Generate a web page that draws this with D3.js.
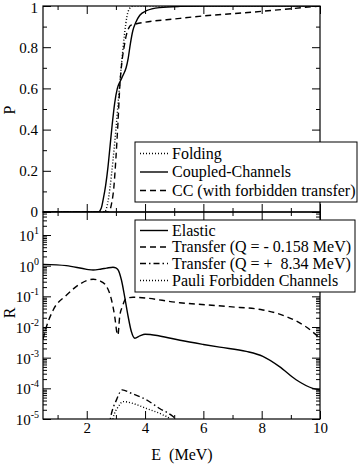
<!DOCTYPE html>
<html>
<head>
<meta charset="utf-8">
<script src="https://cdn.jsdelivr.net/npm/d3@7"></script>
<style>
  body { margin: 0; background: #fff; }
  svg { display: block; font-family: "Liberation Serif", "Times New Roman", Times, serif; }
  svg text { font-family: "Liberation Serif", "Times New Roman", Times, serif !important; fill: #000; }
</style>
</head>
<body>
<svg width="360" height="464"></svg>
<script>
// ---- data ----
// upper panel: P vs E (MeV)
const folding = [[0.5,0],[2.6,0],[2.7,0.03],[2.8,0.12],[2.9,0.25],[3.0,0.4],[3.1,0.57],[3.2,0.73],[3.3,0.87],[3.38,0.95],[3.47,0.988],[3.6,1.0],[10,1.0]];
const coupled = [[0.5,0],[2.39,0],[2.5,0.02],[2.56,0.058],[2.65,0.13],[2.73,0.22],[2.8,0.32],[2.87,0.42],[2.96,0.53],[3.05,0.6],[3.15,0.635],[3.25,0.665],[3.35,0.7],[3.42,0.745],[3.5,0.82],[3.58,0.88],[3.68,0.92],[3.82,0.955],[4.05,0.977],[4.5,0.992],[5.2,0.998],[6,1.0],[10,1.0]];
const ccForbidden = [[0.5,0],[2.75,0],[2.85,0.04],[2.93,0.12],[3.0,0.26],[3.07,0.43],[3.13,0.6],[3.2,0.72],[3.28,0.8],[3.36,0.86],[3.45,0.895],[3.52,0.907],[5.2,0.94],[8,0.974],[10,1.0]];

// lower panel: R vs E (MeV), log scale
const elastic = [[0.5,1.1],[1.3,1.0],[2.0,0.76],[2.22,0.72],[2.5,0.78],[2.68,0.83],[2.9,0.89],[3.0,0.84],[3.08,0.72],[3.19,0.34],[3.3,0.098],[3.42,0.022],[3.53,0.0071],[3.65,0.0043],[3.82,0.0051],[4.0,0.0058],[4.5,0.0051],[5.2,0.0037],[6.0,0.0027],[6.56,0.0022],[7.47,0.0016],[8.04,0.0011],[8.61,5.1e-4],[9.18,1.9e-4],[9.75,1.0e-4],[10,8.9e-5]];
const transferLow = [[0.5,0.004],[0.6,0.009],[0.85,0.036],[1.31,0.11],[1.76,0.25],[2.22,0.36],[2.45,0.32],[2.68,0.21],[2.85,0.076],[2.96,0.022],[3.04,0.0063],[3.07,0.0055],[3.13,0.022],[3.22,0.046],[3.36,0.087],[3.59,0.093],[5.19,0.062],[6.9,0.046],[8.04,0.036],[8.84,0.022],[9.53,0.010],[10,0.0043]];
const transferHigh = [[2.76,5e-6],[2.81,1e-5],[3.02,4.2e-5],[3.22,8.9e-5],[3.48,7.2e-5],[4.05,4.2e-5],[4.5,2.2e-5],[4.96,1.2e-5],[5.05,1e-5],[5.1,8e-6]];
const pauli = [[2.85,5e-6],[2.9,1e-5],[3.08,2.5e-5],[3.25,3.7e-5],[3.59,3.2e-5],[4.05,2.2e-5],[4.62,1.35e-5],[4.85,1e-5],[4.9,8e-6]];

const xMajor = [2, 4, 6, 8, 10];
const xMinor = [1, 3, 5, 7, 9];
const pMajor = [0, 0.2, 0.4, 0.6, 0.8, 1];
const pMinor = [0.1, 0.3, 0.5, 0.7, 0.9];
const rExponents = [-5, -4, -3, -2, -1, 0, 1];

const topLegend = ["Folding", "Coupled-Channels", "CC (with forbidden transfer)"];
const botLegend = ["Elastic", "Transfer (Q = - 0.158 MeV)", "Transfer (Q = +  8.34 MeV)", "Pauli Forbidden Channels"];

// ---- layout ----
const left = 43, right = 320;
const topY0 = 6, midY = 212, botY1 = 419;
const serif = '"Liberation Serif", "Times New Roman", Times, serif';

const svg = d3.select("svg");
const x = d3.scaleLinear().domain([0.5, 10]).range([left, right]);
const yP = d3.scaleLinear().domain([0, 1]).range([midY, topY0]);
const yR = d3.scaleLog().domain([1e-5, Math.pow(10, 1.75)]).range([botY1, midY]);

const rMinor = [];
rExponents.forEach(e => { for (let k = 2; k <= 9; k++) { const v = k * Math.pow(10, e); if (v < yR.domain()[1]) rMinor.push(v); } });

const dash = { solid: null, dashed: "6,4", dotted: "1,2", dashdot: "6,3,1.5,3" };

// clip paths
const defs = svg.append("defs");
defs.append("clipPath").attr("id", "clipTop").append("rect")
  .attr("x", left).attr("y", topY0).attr("width", right - left).attr("height", midY - topY0);
defs.append("clipPath").attr("id", "clipBot").append("rect")
  .attr("x", left).attr("y", midY).attr("width", right - left).attr("height", botY1 - midY);

function ticks(axis, tx, ty, size) {
  const g = svg.append("g").attr("transform", `translate(${tx},${ty})`)
    .call(axis.tickSize(size).tickFormat(""));
  g.select(".domain").remove();
  g.selectAll("line").attr("stroke", "#000");
}

// top panel ticks (inward)
ticks(d3.axisTop(x).tickValues(xMajor), 0, midY, 8);
ticks(d3.axisTop(x).tickValues(xMinor), 0, midY, 4);
ticks(d3.axisBottom(x).tickValues(xMajor), 0, topY0, 8);
ticks(d3.axisBottom(x).tickValues(xMinor), 0, topY0, 4);
ticks(d3.axisRight(yP).tickValues(pMajor), left, 0, 8);
ticks(d3.axisRight(yP).tickValues(pMinor), left, 0, 4);
ticks(d3.axisLeft(yP).tickValues(pMajor), right, 0, 8);
ticks(d3.axisLeft(yP).tickValues(pMinor), right, 0, 4);

// bottom panel ticks (inward)
ticks(d3.axisBottom(x).tickValues(xMajor), 0, midY, 8);
ticks(d3.axisBottom(x).tickValues(xMinor), 0, midY, 4);
ticks(d3.axisTop(x).tickValues(xMajor), 0, botY1, 8);
ticks(d3.axisTop(x).tickValues(xMinor), 0, botY1, 4);
const rMajor = rExponents.map(e => Math.pow(10, e));
ticks(d3.axisRight(yR).tickValues(rMajor), left, 0, 8);
ticks(d3.axisRight(yR).tickValues(rMinor), left, 0, 4);
ticks(d3.axisLeft(yR).tickValues(rMajor), right, 0, 8);
ticks(d3.axisLeft(yR).tickValues(rMinor), right, 0, 4);

// labels
const pLab = svg.append("g").attr("transform", `translate(${left},0)`)
  .call(d3.axisLeft(yP).tickValues(pMajor).tickSize(0).tickPadding(5).tickFormat(d3.format("~g")));
pLab.select(".domain").remove();
pLab.attr("font-family", serif).attr("font-size", 15);
pLab.selectAll("text").filter(d => d === 1).attr("dy", "0.45em");

const xLab = svg.append("g").attr("transform", `translate(0,${botY1})`)
  .call(d3.axisBottom(x).tickValues(xMajor).tickSize(0).tickPadding(3));
xLab.select(".domain").remove();
xLab.attr("font-family", serif).attr("font-size", 15);

const rLab = svg.append("g").attr("font-family", serif);
rExponents.forEach(e => {
  const t = rLab.append("text")
    .attr("x", left - 4).attr("y", yR(Math.pow(10, e)) + 6)
    .attr("text-anchor", "end").attr("font-size", 15);
  t.append("tspan").text("10");
  t.append("tspan").attr("dy", -7).attr("font-size", 10).text(String(e));
});

svg.append("text").attr("transform", `translate(15,110) rotate(-90)`)
  .attr("text-anchor", "middle").attr("font-size", 16).text("P");
svg.append("text").attr("transform", `translate(15,313) rotate(-90)`)
  .attr("text-anchor", "middle").attr("font-size", 16).text("R");
svg.append("text").attr("x", 182).attr("y", 460).attr("text-anchor", "middle")
  .attr("font-size", 16).style("white-space", "pre").text("E  (MeV)");

// curves
const lineTop = d3.line().x(d => x(d[0])).y(d => yP(d[1])).curve(d3.curveMonotoneX);
const lineBot = d3.line().x(d => x(d[0])).y(d => yR(d[1])).curve(d3.curveMonotoneX);

const gTop = svg.append("g").attr("clip-path", "url(#clipTop)");
[[folding, dash.dotted], [coupled, dash.solid], [ccForbidden, dash.dashed]].forEach(([d, da]) => {
  gTop.append("path").datum(d).attr("d", lineTop)
    .attr("fill", "none").attr("stroke", "#000").attr("stroke-width", 1.4)
    .attr("stroke-dasharray", da);
});

const gBot = svg.append("g").attr("clip-path", "url(#clipBot)");
[[elastic, dash.solid], [transferLow, dash.dashed], [transferHigh, dash.dashdot], [pauli, dash.dotted]].forEach(([d, da]) => {
  gBot.append("path").datum(d).attr("d", lineBot)
    .attr("fill", "none").attr("stroke", "#000").attr("stroke-width", 1.4)
    .attr("stroke-dasharray", da);
});

// frames
svg.append("rect").attr("x", left).attr("y", topY0).attr("width", right - left).attr("height", midY - topY0)
  .attr("fill", "none").attr("stroke", "#000").attr("stroke-width", 1.2);
svg.append("rect").attr("x", left).attr("y", midY).attr("width", right - left).attr("height", botY1 - midY)
  .attr("fill", "none").attr("stroke", "#000").attr("stroke-width", 1.2);

// legends
function legend(items, styles, box, rows) {
  svg.append("rect").attr("x", box[0]).attr("y", box[1]).attr("width", box[2] - box[0]).attr("height", box[3] - box[1])
    .attr("fill", "#fff").attr("stroke", "#000").attr("stroke-width", 1);
  items.forEach((label, i) => {
    svg.append("line").attr("x1", 140).attr("x2", 168).attr("y1", rows[i]).attr("y2", rows[i])
      .attr("stroke", "#000").attr("stroke-width", 1.4).attr("stroke-dasharray", styles[i]);
    svg.append("text").attr("x", 172).attr("y", rows[i] + 5).attr("font-size", 16)
      .style("white-space", "pre").text(label);
  });
}
legend(topLegend, [dash.dotted, dash.solid, dash.dashed], [135, 142, 357, 202], [153.5, 172, 190.5]);
legend(botLegend, [dash.solid, dash.dashed, dash.dashdot, dash.dotted], [135, 220, 355, 292], [230.5, 247, 263.5, 280.5]);
</script>
</body>
</html>
